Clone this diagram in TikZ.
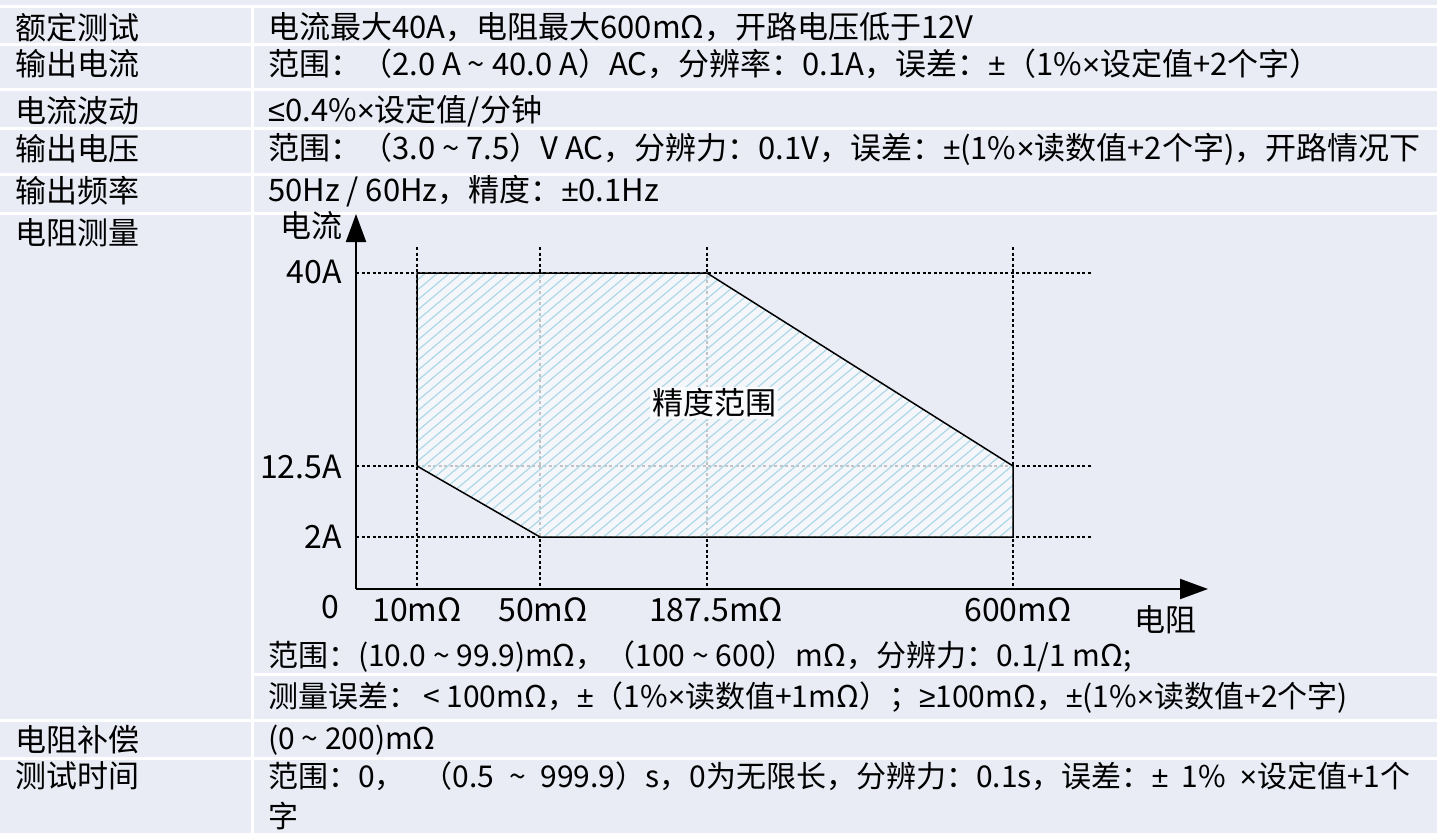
\documentclass[tikz,border=0pt]{standalone}
\usepackage{fontspec}
\setmainfont{Noto Sans CJK SC}
\newfontfamily\symfont{Liberation Sans}
\usetikzlibrary{arrows.meta}
\usetikzlibrary{positioning}
\definecolor{tablebg}{RGB}{233,235,245}
\definecolor{hatchblue}{RGB}{172,216,232}
\definecolor{areafill}{RGB}{248,250,252}
\newcommand{\tld}{\textasciitilde}
\newcommand{\pmsym}{{\symfont ±}}
\newcommand{\timessym}{{\symfont ×}}
\newcommand{\lesym}{{\symfont ≤}}
\newcommand{\gesym}{{\symfont ≥}}
\tikzset{
	>={Triangle[length=28pt,width=20pt]},
	sep/.style={draw=white, line width=3pt},
	txt/.style={
		inner sep=0pt,
		font=\fontsize{31}{37}\selectfont},
	small/.style={
		inner sep=0pt,
		font=\fontsize{30}{36}\selectfont},
	tick/.style={
		inner sep=0pt,
		font=\fontsize{32}{38}\selectfont},
	lab/.style={txt, anchor=west},
	val/.style={txt, anchor=west},
	valsmall/.style={small, anchor=west},
	gridline/.style={draw=black, line width=1.6pt, dash pattern=on 3pt off 2.5pt},
	axis/.style={draw=black, line width=2pt, ->},
	area/.style={draw=black, line width=1.5pt},
}
\begin{document}
\begin{tikzpicture}
	[x=1pt, y=-1pt]

	\useasboundingbox (0,0) rectangle (1437,833);
	\fill[tablebg] (0,0) rectangle (1437,833);

	% table rules
	\foreach \y in {6,44,89,128,174,213,720,758}
	\draw[sep] (0,\y) -- (1437,\y);
	\draw[sep] (252,674) -- (1437,674);
	\draw[sep] (252,6) -- (252,833);

	% left column
	\foreach \y/\t [count=\i] in {27.5/额定测试,64/输出电流,111/电流波动,149/输出电压,191/输出频率,233/电阻测量,740/电阻补偿,776/测试时间}
	\node[lab] (lab\i) at (15,\y) {\t};

	% right column
	\node[val] (rated) at (268,27.5) {电流最大40A，电阻最大600mΩ，开路电压低于12V};
	\node[val] (curr) at (268,64) {范围：（2.0 A \tld{} 40.0 A）AC，分辨率：0.1A，误差：\pmsym（1\%\timessym 设定值+2个字）};
	\node[val] (ripple) at (268,111) {\lesym 0.4\%\timessym 设定值/分钟};
	\node[val] (volt) at (268,149) {范围：（3.0 \tld{} 7.5）V AC，分辨力：0.1V，误差：\pmsym(1\%\timessym 读数值+2个字)，开路情况下};
	\node[val] (freq) at (268,191) {50Hz / 60Hz，精度：\pmsym 0.1Hz};
	\node[valsmall] (rrange) at (268,657) {范围：(10.0 \tld{} 99.9)mΩ，（100 \tld{} 600）mΩ，分辨力：0.1/1 mΩ;};
	\node[valsmall] (rerr) at (268,698) {测量误差：\,< 100mΩ，\pmsym（1\%\timessym 读数值+1mΩ）；\gesym 100mΩ，\pmsym(1\%\timessym 读数值+2个字)};
	\node[valsmall] (comp) at (268,740) {(0 \tld{} 200)mΩ};
	\node[valsmall] (time) at (268,776) {范围：0，\hspace{18pt}（0.5 \hspace{8pt}\tld\hspace{8pt} 999.9）s，0为无限长，分辨力：0.1s，误差：\pmsym\ \ 1\%\ \ \timessym 设定值+1个};
	\node[valsmall] (time2) at (268,816) {字};

	% chart
	\coordinate (o) at (356,589);
	\coordinate (ytop) at (356,214);
	\coordinate (xend) at (1208,589);

	\foreach \x in {417,540,707,1013}
	\draw[gridline] (\x,247) -- (\x,589);
	\foreach \y in {273,466,537}
	\draw[gridline] (356,\y) -- (1092,\y);

	\coordinate (p1) at (417,273);
	\coordinate (p2) at (707,273);
	\coordinate (p3) at (1013,466);
	\coordinate (p4) at (1013,537);
	\coordinate (p5) at (540,537);
	\coordinate (p6) at (417,466);

	\fill[areafill, fill opacity=0.78] (p1) -- (p2) -- (p3) -- (p4) -- (p5) -- (p6) -- cycle;
	\begin{scope}
	\clip (p1) -- (p2) -- (p3) -- (p4) -- (p5) -- (p6) -- cycle;
	\foreach \k in {0,...,90}
	\draw[hatchblue, line width=1.2pt] (\k*12,560) -- ++(400,-336);
	\end{scope}
	\draw[area] (p1) -- (p2) -- (p3) -- (p4) -- (p5) -- (p6) -- cycle;

	\node[txt, fill=areafill, inner sep=2pt] (zone) at (714,403) {精度范围};

	\draw[axis] (o) -- (ytop);
	\draw[axis] (o) -- (xend);

	\node[tick, anchor=east] (i40) at (342,272) {40A};
	\node[tick, anchor=east] (i125) at (342,467) {12.5A};
	\node[tick, anchor=east] (i2) at (342,537) {2A};
	\node[tick] (zero) at (330,607) {0};
	\node[tick] (r10) at (417,610) {10mΩ};
	\node[tick] (r50) at (543,610) {50mΩ};
	\node[tick] (r187) at (716,610) {187.5mΩ};
	\node[tick] (r600) at (1018,610) {600mΩ};
	\node[txt] (ylab) at (311,226) {电流};
	\node[txt] (xlab) at (1165,620) {电阻};
\end{tikzpicture}
\end{document}
